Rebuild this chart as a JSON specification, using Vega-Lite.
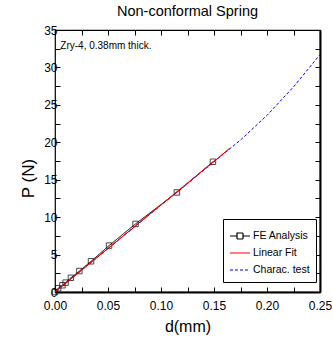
{
  "$schema": "https://vega.github.io/schema/vega-lite/v6.json",
  "width": 265,
  "height": 262,
  "autosize": "none",
  "padding": {"left": 55, "top": 30, "right": 13, "bottom": 53},
  "background": "white",
  "config": {
    "font": "Liberation Sans",
    "view": {"stroke": "black", "strokeWidth": 1.2},
    "axis": {"grid": false, "domain": false, "tickColor": "black", "labelColor": "black", "titleColor": "black", "labelFontSize": 12, "titleFontWeight": "normal", "tickSize": -5, "labelFlush": false}
  },
  "title": {"text": "Non-conformal Spring", "fontSize": 14.5, "fontWeight": "normal", "offset": 5, "color": "black"},
  "datasets": {
    "series": [
      {"d": 0, "P": 0, "series": "FE Analysis"},
      {"d": 0.003, "P": 0.5, "series": "FE Analysis"},
      {"d": 0.007, "P": 0.9, "series": "FE Analysis"},
      {"d": 0.010, "P": 1.25, "series": "FE Analysis"},
      {"d": 0.015, "P": 1.9, "series": "FE Analysis"},
      {"d": 0.023, "P": 2.8, "series": "FE Analysis"},
      {"d": 0.034, "P": 4.1, "series": "FE Analysis"},
      {"d": 0.051, "P": 6.2, "series": "FE Analysis"},
      {"d": 0.076, "P": 9.1, "series": "FE Analysis"},
      {"d": 0.115, "P": 13.3, "series": "FE Analysis"},
      {"d": 0.149, "P": 17.4, "series": "FE Analysis"},
      {"d": 0, "P": 0, "series": "Charac. test"},
      {"d": 0.025, "P": 2.9, "series": "Charac. test"},
      {"d": 0.05, "P": 5.8, "series": "Charac. test"},
      {"d": 0.075, "P": 8.7, "series": "Charac. test"},
      {"d": 0.1, "P": 11.6, "series": "Charac. test"},
      {"d": 0.125, "P": 14.5, "series": "Charac. test"},
      {"d": 0.15, "P": 17.4, "series": "Charac. test"},
      {"d": 0.175, "P": 20.3, "series": "Charac. test"},
      {"d": 0.2, "P": 23.6, "series": "Charac. test"},
      {"d": 0.225, "P": 27.4, "series": "Charac. test"},
      {"d": 0.25, "P": 31.7, "series": "Charac. test"},
      {"d": 0, "P": 0, "series": "Linear Fit"},
      {"d": 0.165, "P": 19.2, "series": "Linear Fit"}
    ]
  },
  "data": {"name": "series"},
  "layer": [
    {
      "mark": {"type": "line", "strokeWidth": 1, "clip": true},
      "encoding": {
        "x": {"field": "d", "type": "quantitative", "scale": {"domain": [0, 0.25], "nice": false},
          "axis": {"orient": "bottom", "values": [0, 0.025, 0.05, 0.075, 0.1, 0.125, 0.15, 0.175, 0.2, 0.225, 0.25], "labelExpr": "round(datum.value*40) % 2 == 0 ? format(datum.value, '.2f') : ''", "title": "d(mm)", "titleFontSize": 16, "labelPadding": 13, "titlePadding": 7, "domain": true, "domainColor": "black", "domainWidth": 2}},
        "y": {"field": "P", "type": "quantitative", "scale": {"domain": [0, 35], "nice": false},
          "axis": {"orient": "left", "values": [0, 2.5, 5, 7.5, 10, 12.5, 15, 17.5, 20, 22.5, 25, 27.5, 30, 32.5, 35], "labelExpr": "round(datum.value*2) % 10 == 0 ? format(datum.value, 'd') : ''", "title": "P (N)", "titleFontSize": 17, "labelPadding": 3, "titlePadding": 6, "titleY": 148}},
        "color": {"field": "series", "type": "nominal",
          "scale": {"domain": ["FE Analysis", "Linear Fit", "Charac. test"], "range": ["black", "#ff0000", "#0000ff"]},
          "legend": {"orient": "none", "legendX": 168, "legendY": 189, "title": null, "strokeColor": "black", "fillColor": "white", "padding": 6, "labelFontSize": 10.5, "symbolType": "stroke", "symbolSize": 400, "symbolStrokeWidth": 1.2, "rowPadding": 0, "labelOffset": 2,
            "encode": {"symbols": {"update": {"shape": {"signal": "datum.value === 'FE Analysis' ? 'M-1,0H-0.3M0.3,0H1M-0.3,-0.3H0.3V0.3H-0.3Z' : 'stroke'"}, "fill": {"value": "transparent"}, "stroke": {"signal": "datum.value === 'FE Analysis' ? 'black' : datum.value === 'Linear Fit' ? '#ff0000' : '#0000ff'"}}}}}},
        "strokeDash": {"field": "series", "type": "nominal",
          "scale": {"domain": ["FE Analysis", "Linear Fit", "Charac. test"], "range": [[1, 0], [1, 0], [3, 2]]},
          "legend": null},
        "order": {"field": "d", "type": "quantitative"}
      }
    },
    {
      "transform": [{"filter": "datum.series === 'FE Analysis'"}],
      "mark": {"type": "point", "shape": "square", "filled": false, "size": 30, "strokeWidth": 1, "color": "black"},
      "encoding": {
        "x": {"field": "d", "type": "quantitative", "axis": {"orient": "top", "values": [0, 0.025, 0.05, 0.075, 0.1, 0.125, 0.15, 0.175, 0.2, 0.225, 0.25], "labels": false, "title": null}},
        "y": {"field": "P", "type": "quantitative", "axis": {"orient": "right", "values": [0, 2.5, 5, 7.5, 10, 12.5, 15, 17.5, 20, 22.5, 25, 27.5, 30, 32.5, 35], "labels": false, "title": null, "domain": true, "domainColor": "black", "domainWidth": 2}}
      }
    },
    {
      "transform": [{"filter": "datum.series === 'Linear Fit'"}],
      "mark": {"type": "line", "strokeWidth": 1, "color": "#ff0000"},
      "encoding": {
        "x": {"field": "d", "type": "quantitative", "axis": null},
        "y": {"field": "P", "type": "quantitative", "axis": null},
        "order": {"field": "d", "type": "quantitative"}
      }
    },
    {
      "data": {"values": [{"d": 0.005, "P": 32.8, "label": "Zry-4, 0.38mm thick."}]},
      "mark": {"type": "text", "align": "left", "baseline": "middle", "fontSize": 10, "color": "black"},
      "encoding": {
        "x": {"field": "d", "type": "quantitative", "axis": null},
        "y": {"field": "P", "type": "quantitative", "axis": null},
        "text": {"field": "label"}
      }
    }
  ],
  "resolve": {"axis": {"x": "independent", "y": "independent"}}
}
